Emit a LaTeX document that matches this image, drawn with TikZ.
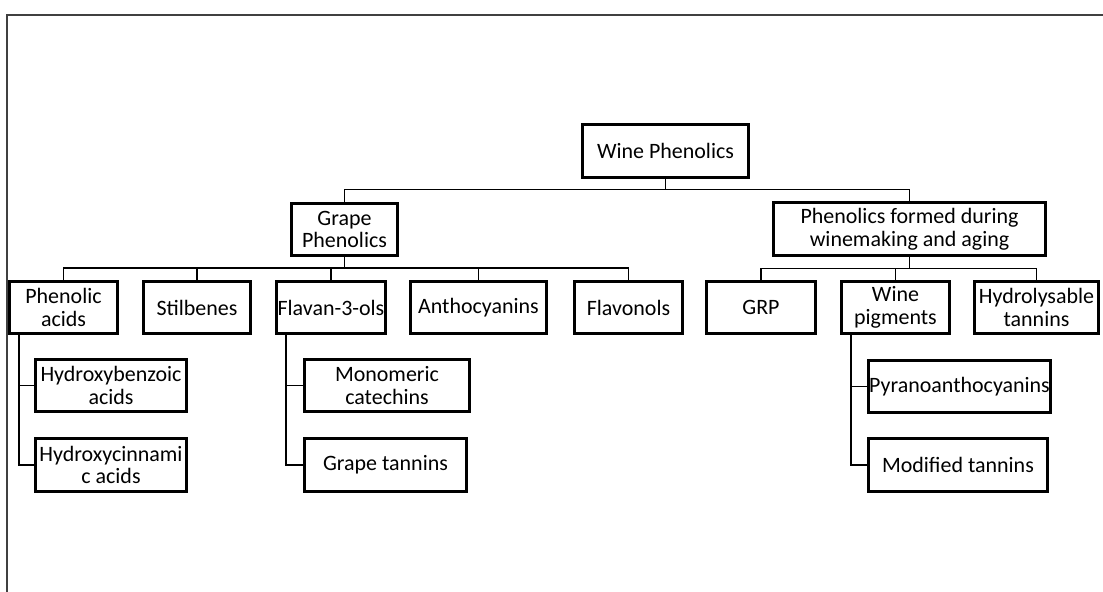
\documentclass[tikz,border=0pt]{standalone}
\usepackage{fontspec}
\setmainfont{Carlito}

\begin{document}
\begin{tikzpicture}[x=0.02cm, y=-0.02cm,
  box/.style={draw, line width=1.6pt, minimum height=1.05cm, inner sep=0.5pt, align=center, font=\fontsize{12.5}{13}\selectfont},
  link/.style={line width=0.8pt}]
\useasboundingbox (0,0) rectangle (1103,592);
\draw [line width=0.6pt, darkgray] (1103,15) -- (7,15) -- (7,592);

\node [box, minimum width=3.33cm] (wine) at (665.5,151) {Wine Phenolics};
\node [box, minimum width=2.13cm] (grape) at (344.5,229.5) {Grape\\Phenolics};
\node [box, minimum width=5.45cm] (formed) at (909.5,229) {Phenolics formed during\\winemaking and aging};

\node [box, minimum width=2.17cm] (phacid) at (63.5,307.5) {Phenolic\\acids};
\node [box, minimum width=2.15cm] (stilb) at (197,307.5) {Stilbenes};
\node [box, minimum width=2.19cm] (flavan) at (331,307.5) {Flavan-3-ols};
\node [box, minimum width=2.73cm] (antho) at (478.5,307.5) {Anthocyanins};
\node [box, minimum width=2.17cm] (flavon) at (628.5,307.5) {Flavonols};
\node [box, minimum width=2.19cm] (grp) at (761,307.5) {GRP};
\node [box, minimum width=2.17cm] (pigm) at (895.5,307.5) {Wine\\pigments};
\node [box, minimum width=2.49cm] (hydrol) at (1036.5,307.5) {Hydrolysable\\tannins};

\node [box, minimum width=3.03cm] (hbenz) at (111,385.5) {Hydroxybenzoic\\acids};
\node [box, minimum width=3.03cm] (hcinn) at (111,465) {Hydroxycinnami\\c acids};
\node [box, minimum width=3.31cm] (monocat) at (387,385.5) {Monomeric\\catechins};
\node [box, minimum width=3.25cm] (gtann) at (385.5,465) {Grape tannins};
\node [box, minimum width=3.65cm] (pyrano) at (959.5,386.5) {Pyranoanthocyanins};
\node [box, minimum width=3.59cm] (modtann) at (958,465) {Modified tannins};

\draw [link] (wine.south) -- ++(0,11) coordinate (top);
\draw [link] (grape.north) |- (top) -| (formed.north);

\draw [link] (grape.south) -- ++(0,11) coordinate (gbus);
\draw [link] (phacid.north) |- (gbus) -| (flavon.north);
\foreach \n in {stilb, flavan, antho}
  \draw [link] (\n.north) -- (\n.north |- gbus);

\draw [link] (formed.south) -- ++(0,12) coordinate (fbus);
\draw [link] (grp.north) |- (fbus) -| (hydrol.north);
\draw [link] (pigm.north) -- (pigm.north |- fbus);

\coordinate (pa) at ([xshift=.22cm]phacid.south west);
\draw [link] (pa) |- (hcinn.west);
\draw [link] (hbenz.west) -- (hbenz.west -| pa);

\coordinate (fl) at ([xshift=.22cm]flavan.south west);
\draw [link] (fl) |- (gtann.west);
\draw [link] (monocat.west) -- (monocat.west -| fl);

\coordinate (wp) at ([xshift=.22cm]pigm.south west);
\draw [link] (wp) |- (modtann.west);
\draw [link] (pyrano.west) -- (pyrano.west -| wp);
\end{tikzpicture}
\end{document}
